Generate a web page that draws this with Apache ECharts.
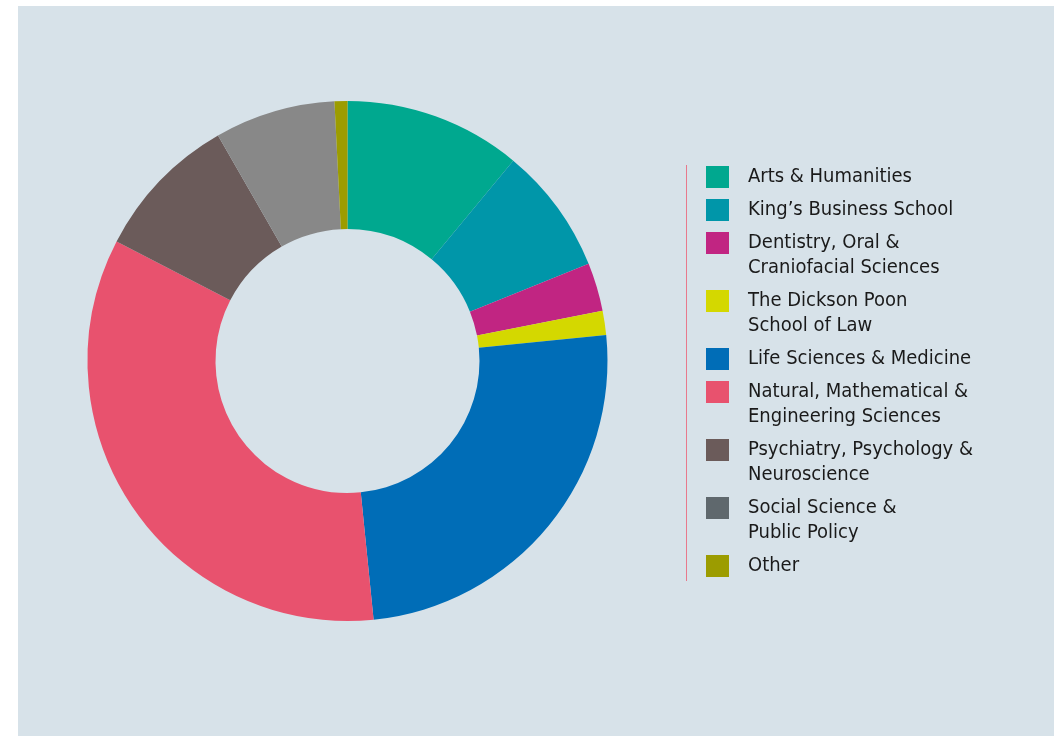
<!DOCTYPE html>
<html>
<head>
<meta charset="utf-8">
<script src="https://cdn.jsdelivr.net/npm/echarts@6/dist/echarts.min.js"></script>
<style>
html,body{margin:0;padding:0;background:#ffffff;}
#chart{width:1054px;height:736px;}
</style>
</head>
<body>
<div id="chart"></div>
<script>
// ---- data ----
const categories = [
  "Arts & Humanities",
  "King’s Business School",
  "Dentistry, Oral & Craniofacial Sciences",
  "The Dickson Poon School of Law",
  "Life Sciences & Medicine",
  "Natural, Mathematical & Engineering Sciences",
  "Psychiatry, Psychology & Neuroscience",
  "Social Science & Public Policy",
  "Other"
];
const legendLabels = [
  "Arts & Humanities",
  "King’s Business School",
  "Dentistry, Oral &\nCraniofacial Sciences",
  "The Dickson Poon\nSchool of Law",
  "Life Sciences & Medicine",
  "Natural, Mathematical &\nEngineering Sciences",
  "Psychiatry, Psychology &\nNeuroscience",
  "Social Science &\nPublic Policy",
  "Other"
];
const shares = [11.0, 7.9, 3.0, 1.5, 25.0, 34.2, 9.1, 7.5, 0.8];

// ---- styles ----
const sliceColors = ["#00a88f", "#0096a9", "#c12582", "#d4d800", "#006db7", "#e8526e", "#6b5b5a", "#888888", "#9c9c00"];
const swatchColors = ["#00a88f", "#0096a9", "#c12582", "#d4d800", "#006db7", "#e8526e", "#6b5b5a", "#5f686d", "#9c9c00"];

const FONT = "'Liberation Sans Narrow', 'DejaVu Sans Condensed', Roboto, sans-serif";
const LINE_H = 25, ICON_W = 23, ICON_H = 22, ROW_GAP = 8;

const chart = echarts.init(document.getElementById('chart'), null, {renderer: 'canvas'});

// multi-line labels get blank leading lines so the swatch (centred on the
// text block) lines up with the first text line
const labelMap = {};
categories.forEach((c, i) => {
  const n = legendLabels[i].split('\n').length;
  labelMap[c] = '\n'.repeat(n - 1) + legendLabels[i];
});

const legends = [];
let iconTop = 166;
categories.forEach((c, i) => {
  const n = legendLabels[i].split('\n').length;
  legends.push({
    orient: 'vertical',
    left: 706,
    top: iconTop + ICON_H / 2 - (2 * n - 1) * LINE_H / 2,
    padding: 0,
    itemGap: 0,
    itemWidth: ICON_W,
    itemHeight: ICON_H,
    icon: 'rect',
    selectedMode: false,
    data: [{name: c, itemStyle: {color: swatchColors[i]}}],
    formatter: name => labelMap[name],
    textStyle: {
      fontFamily: FONT,
      fontSize: 20,
      lineHeight: LINE_H,
      color: '#1a1a1a',
      padding: [0, 0, 0, 14]
    }
  });
  iconTop += n * LINE_H + ROW_GAP;
});

chart.setOption({
  animation: false,
  graphic: [
    {type: 'rect', z: -10, silent: true, shape: {x: 18, y: 6, width: 1036, height: 730}, style: {fill: '#d7e2e9'}},
    {type: 'line', silent: true, shape: {x1: 686.5, y1: 165, x2: 686.5, y2: 581}, style: {stroke: '#e8798c', lineWidth: 1}}
  ],
  legend: legends,
  series: [{
    type: 'pie',
    center: [347.5, 361],
    radius: [132, 260],
    startAngle: 90,
    clockwise: true,
    avoidLabelOverlap: false,
    label: {show: false},
    labelLine: {show: false},
    emphasis: {disabled: true},
    itemStyle: {borderWidth: 0},
    data: categories.map((c, i) => ({name: c, value: shares[i], itemStyle: {color: sliceColors[i]}}))
  }]
});
</script>
</body>
</html>
